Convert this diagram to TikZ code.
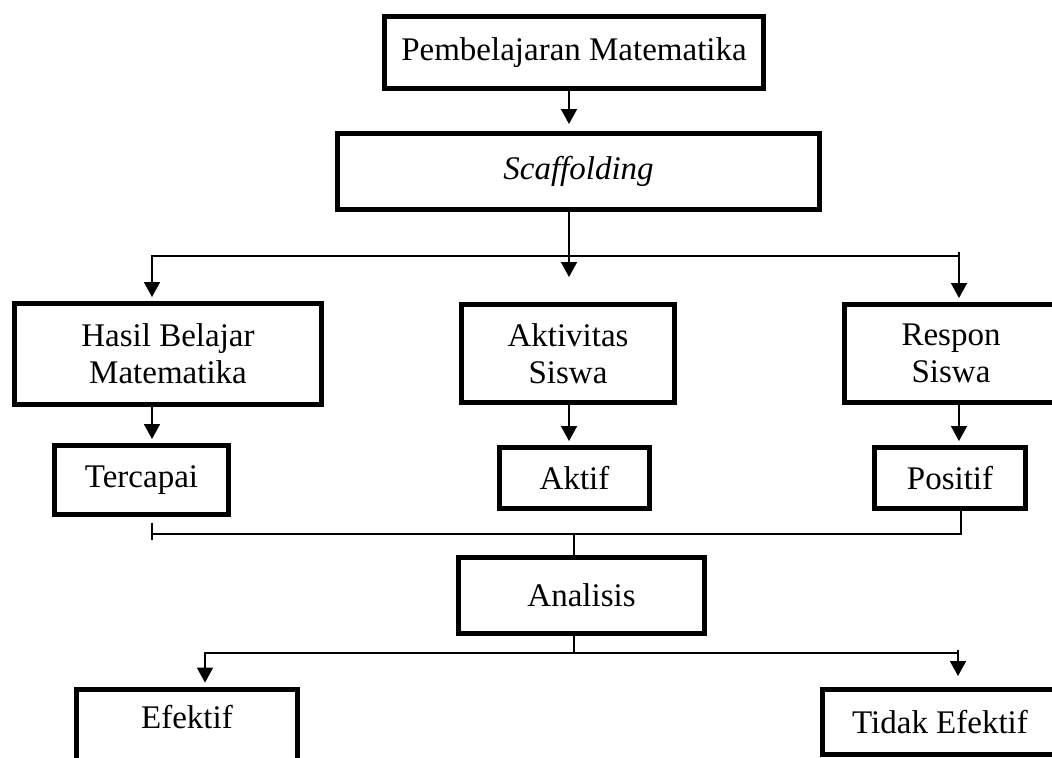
\documentclass[tikz,border=0pt]{standalone}
\usepackage{fontspec}
\setmainfont{Liberation Serif}
\usepackage{tikz}
\usetikzlibrary{arrows.meta, calc}

\begin{document}
\begin{tikzpicture}[x=0.5pt, y=-0.5pt,
    >={Triangle[length=7.5pt, width=8pt]},
    kotak/.style={rectangle, draw=black, line width=2.6pt, inner sep=0pt, align=center,
                  font=\fontsize{16.5}{18.5}\selectfont},
    garis/.style={line width=0.85pt, draw=black},
    panah/.style={->, line width=0.85pt, draw=black, shorten >=2pt}]
    \useasboundingbox (0,0) rectangle (1052,757);
    \node[kotak, minimum width=189.4pt, minimum height=35.9pt] (pm) at (574,52.5) {Pembelajaran Matematika};
    \node[kotak, minimum width=240.9pt, minimum height=37.9pt] (sc) at (578.5,171.5) {\textit{Scaffolding}};
    \node[kotak, minimum width=153.4pt, minimum height=50.4pt] (hb) at (168,354) {Hasil Belajar\\Matematika};
    \node[kotak, minimum width=106.4pt, minimum height=48.9pt] (as) at (568,353.5) {Aktivitas\\Siswa};
    \node[kotak, minimum width=106.4pt, minimum height=48.9pt] (rs) at (951,353.5) {Respon\\Siswa};
    \node[kotak, minimum width=86.9pt, minimum height=34.4pt] (tc) at (141.5,480) {Tercapai};
    \node[kotak, minimum width=74.9pt, minimum height=30.4pt] (ak) at (574.5,478) {Aktif};
    \node[kotak, minimum width=75.4pt, minimum height=30.4pt] (ps) at (950,478) {Positif};
    \node[kotak, minimum width=122.9pt, minimum height=37.9pt] (an) at (581.5,595.5) {Analisis};
    \node[kotak, minimum width=110.4pt, text height=19.7pt, text depth=32pt, anchor=north] (ef) at (187,686.6) {Efektif};
    \node[kotak, minimum width=117.4pt, minimum height=32.4pt] (te) at (940,722) {Tidak Efektif};
    % cabang pertama
    \coordinate (k1) at (152,256);
    \coordinate (k2) at (569,256);
    \coordinate (k3) at (959,256);
    \draw[panah, shorten >=3.5pt] (pm.south -| k2) -- (k2 |- sc.north);
    \draw[garis] (sc.south -| k2) -- (k2);
    \draw[panah] (k2) -- (k1) -- (k1 |- hb.north);
    \draw[panah, shorten >=12.5pt] (k2) -- (k2 |- as.north);
    \draw[garis] (k2) -- (k3);
    \draw[panah] ([yshift=2pt]k3) -- (k3 |- rs.north);
    \draw[panah] (hb.south -| k1) -- (k1 |- tc.north);
    \draw[panah] (as.south -| k2) -- (k2 |- ak.north);
    \draw[panah] (rs.south -| k3) -- (k3 |- ps.north);
    % gabungan ke analisis
    \coordinate (m1) at (152,534);
    \coordinate (m2) at (574,534);
    \coordinate (m3) at (961,534);
    \draw[garis] ([yshift=-2.8pt]tc.south -| m1) -- ([yshift=-3pt]m1);
    \draw[garis] (m1) -- (m3) -- (ps.south -| m3);
    \draw[garis] (m2) -- (m2 |- an.north);
    % cabang hasil analisis
    \coordinate (b1) at (205,653);
    \coordinate (b2) at (574,653);
    \coordinate (b3) at (958,653);
    \draw[garis] (an.south -| b2) -- (b2);
    \draw[panah] (b2) -- (b1) -- (b1 |- ef.north);
    \draw[garis] (b2) -- (b3);
    \draw[panah, shorten >=5.5pt] ([yshift=1.5pt]b3) -- (b3 |- te.north);
\end{tikzpicture}
\end{document}
